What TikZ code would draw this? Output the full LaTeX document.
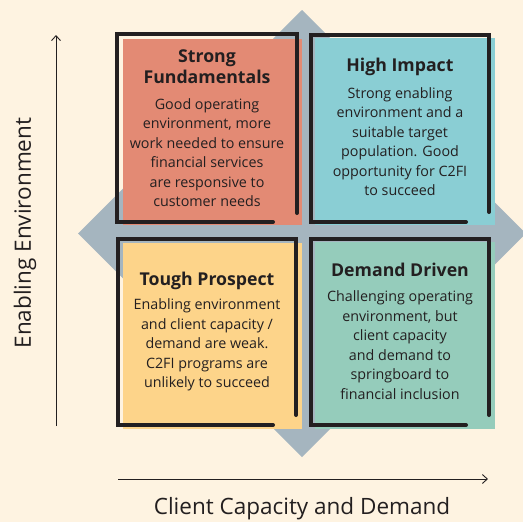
\documentclass[tikz,border=0pt]{standalone}
\usepackage{fontspec}
\setmainfont{Open Sans}
\usetikzlibrary{arrows.meta}
\definecolor{paper}{RGB}{254,243,225}
\definecolor{diam}{RGB}{165,181,191}
\definecolor{ink}{RGB}{35,31,32}
\definecolor{salmon}{RGB}{227,138,116}
\definecolor{teal}{RGB}{138,206,212}
\definecolor{sand}{RGB}{253,212,138}
\definecolor{sage}{RGB}{149,204,187}
\tikzset{
  cardfill/.style={draw=none, inner sep=0pt, anchor=north west},
  cardframe/.style={draw=ink, line width=4pt, line cap=round, line join=miter},
  cardtitle/.style={font=\fontsize{17.7}{21}\selectfont\bfseries, text=ink, align=center, inner sep=0pt},
  cardbody/.style={font=\fontsize{14.3}{19.5}\selectfont, text=ink, align=center, inner sep=0pt},
  axisline/.style={draw=ink, line width=0.9pt, -{Straight Barb[length=5pt,width=9pt]}},
  axislabel/.style={font=\fontsize{22.5}{26}\selectfont, text=ink, inner sep=0pt}
}
\begin{document}
\begin{tikzpicture}[x=1pt,y=-1pt]
  \fill[paper] (0,0) rectangle (523,522);
  \useasboundingbox (0,0) rectangle (523,522);
  % grey diamond behind the four cards
  \fill[diam] (302,10) -- (526,233.5) -- (302,457) -- (78,233.5) -- cycle;
  % card fills
  \node[cardfill, fill=salmon, minimum width=179pt, minimum height=186pt] (fTL) at (123,39) {};
  \node[cardfill, fill=teal,   minimum width=180pt, minimum height=187pt] (fTR) at (315,38) {};
  \node[cardfill, fill=sand,   minimum width=179pt, minimum height=186pt] (fBL) at (123,243) {};
  \node[cardfill, fill=sage,   minimum width=180pt, minimum height=187pt] (fBR) at (315,242) {};
  % open black frames
  \draw[cardframe] (273,222) -- (117,222) -- (117,34) -- (297,34) -- (297,213);
  \draw[cardframe] (466,222) -- (311,222) -- (311,35) -- (489,35) -- (489,212);
  \draw[cardframe] (273,425) -- (118,425) -- (118,239) -- (296,239) -- (296,415);
  \draw[cardframe] (466,425) -- (311,425) -- (311,239) -- (489,239) -- (489,415);
  % texts
  \node[cardtitle] (tTL) at (207,66.5) {Strong\\Fundamentals};
  \node[cardbody]  (bTL) at (207,152.5) {Good operating\\environment, more\\work needed to ensure\\financial services\\are responsive to\\customer needs};
  \node[cardtitle] (tTR) at (400,67) {High Impact};
  \node[cardbody]  (bTR) at (400,141.5) {Strong enabling\\environment and a\\suitable target\\population. Good\\opportunity for C2FI\\to succeed};
  \node[cardtitle] (tBL) at (207,281) {Tough Prospect};
  \node[cardbody]  (bBL) at (207,345) {Enabling environment\\and client capacity /\\demand are weak.\\C2FI programs are\\unlikely to succeed};
  \node[cardtitle] (tBR) at (400,270) {Demand Driven};
  \node[cardbody]  (bBR) at (400,345) {Challenging operating\\environment, but\\client capacity\\and demand to\\springboard to\\financial inclusion};
  % axes
  \coordinate (yS) at (56,426);
  \coordinate (yE) at (56,35);
  \coordinate (xS) at (118,479);
  \coordinate (xE) at (488,479);
  \draw[axisline] (yS) -- (yE);
  \draw[axisline] (xS) -- (xE);
  \node[axislabel, rotate=90] (ly) at (25,233) {Enabling Environment};
  \node[axislabel] (lx) at (302,509) {Client Capacity and Demand};
\end{tikzpicture}
\end{document}
